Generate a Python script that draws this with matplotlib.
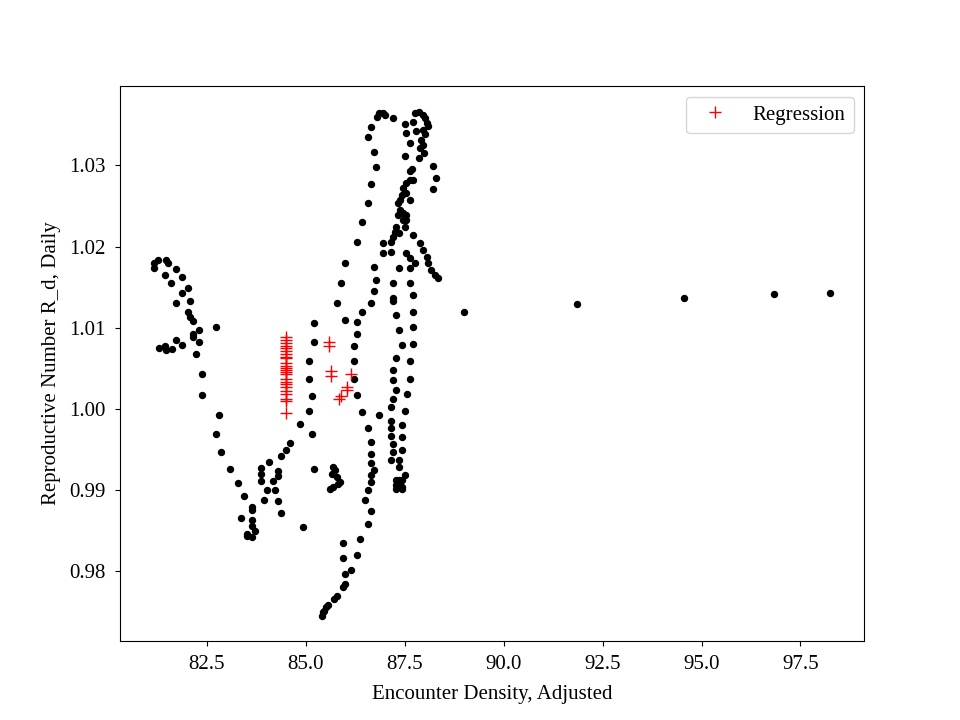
import matplotlib
matplotlib.use("Agg")
import matplotlib.pyplot as plt

plt.rcParams['font.family'] = ['Liberation Serif', 'DejaVu Serif']
plt.rcParams['font.size'] = 15

# Observed daily points (encounter density, reproductive number)
density = [
    81.17, 81.26, 81.16, 81.46, 81.53, 81.73, 81.45, 81.88, 81.60, 82.03,
    81.88, 81.73, 82.08, 82.02, 82.07, 82.15, 82.73, 82.31, 82.15, 82.15,
    82.31, 81.73, 81.88, 81.30, 81.45, 81.46, 81.61, 82.23, 82.38, 82.38,
    82.80, 82.73, 82.86, 83.09, 83.29, 83.44, 83.37, 83.64, 83.64, 83.64,
    83.64, 83.71, 83.51, 83.51, 83.64, 83.87, 83.87, 83.87, 84.07, 83.95,
    84.02, 84.16, 84.22, 84.31, 84.31, 84.31, 84.38, 84.38, 84.50, 84.59,
    84.86, 84.92, 85.08, 85.16, 85.21, 85.16, 85.08, 85.08, 85.21, 85.21,
    85.79, 86.64, 87.20, 87.71, 86.42, 87.28, 85.99, 86.30, 87.36, 87.71,
    86.30, 87.43, 87.71, 86.22, 87.28, 87.63, 86.22, 87.20, 86.22, 87.20,
    87.63, 87.28, 86.30, 87.56, 87.20, 87.15, 86.42, 87.51, 86.85, 87.15,
    86.57, 87.15, 87.43, 87.15, 87.43, 86.65, 87.20, 87.43, 86.65, 87.20,
    87.15, 87.36, 86.65, 86.72, 87.36, 87.51, 86.65, 86.65, 87.27, 87.35,
    87.43, 87.27, 87.37, 87.43, 87.28, 87.42, 85.69, 85.73, 85.65, 85.78,
    85.86, 85.82, 85.69, 85.62, 86.57, 86.50, 86.65, 86.57, 86.37, 85.94,
    86.30, 85.94, 86.14, 86.00, 85.99, 85.94, 85.79, 85.71, 85.57, 85.52,
    85.44, 85.42, 85.46, 86.85, 86.94, 86.80, 86.99, 87.20, 86.66, 86.57,
    86.72, 86.78, 86.66, 86.58, 86.42, 86.30, 85.99, 85.89, 87.75, 87.86,
    87.95, 88.01, 88.07, 88.09, 87.96, 88.01, 87.92, 87.96, 87.88, 87.98,
    87.86, 87.50, 87.71, 87.54, 87.78, 87.63, 87.50, 88.21, 88.30, 88.21,
    87.68, 87.63, 87.63, 87.71, 87.54, 87.46, 87.54, 87.42, 87.37, 87.33,
    87.63, 87.37, 87.46, 87.54, 87.33, 87.46, 87.54, 87.50, 87.29, 87.25,
    87.20, 87.16, 87.36, 87.71, 87.88, 87.96, 88.05, 88.09, 88.17, 88.26,
    88.34, 87.54, 87.63, 87.75, 87.64, 87.36, 87.16, 86.95, 86.95, 87.20,
    87.63, 87.71, 87.20, 86.72, 86.78, 86.72,
    89.00, 91.85, 94.55, 96.83, 98.25,
]
rate = [
    1.01800, 1.01834, 1.01732, 1.01834, 1.01794, 1.01720, 1.01649, 1.01621, 1.01547, 1.01485,
    1.01423, 1.01300, 1.01325, 1.01196, 1.01135, 1.01078, 1.01004, 1.00979, 1.00918, 1.00888,
    1.00831, 1.00847, 1.00782, 1.00757, 1.00773, 1.00724, 1.00733, 1.00683, 1.00437, 1.00178,
    0.99931, 0.99697, 0.99475, 0.99265, 0.99092, 0.98927, 0.98660, 0.98791, 0.98759, 0.98636,
    0.98553, 0.98491, 0.98463, 0.98430, 0.98421, 0.99272, 0.99203, 0.99108, 0.99351, 0.98874,
    0.98997, 0.99108, 0.99006, 0.99235, 0.99178, 0.98870, 0.98722, 0.99425, 0.99499, 0.99586,
    0.99820, 0.98549, 0.99980, 0.99697, 0.99265, 1.00165, 1.00375, 1.00585, 1.00819, 1.01053,
    1.01300, 1.01308, 1.01328, 1.01196, 1.01189, 1.01156, 1.01090, 1.01066, 1.00967, 1.01004,
    1.00921, 1.00794, 1.00798, 1.00770, 1.00634, 1.00588, 1.00585, 1.00486, 1.00375, 1.00363,
    1.00375, 1.00239, 1.00178, 1.00181, 1.00128, 1.00030, 0.99968, 0.99980, 0.99931, 0.99852,
    0.99771, 0.99762, 0.99808, 0.99663, 0.99651, 0.99598, 0.99573, 0.99499, 0.99450, 0.99470,
    0.99376, 0.99376, 0.99339, 0.99252, 0.99285, 0.99191, 0.99182, 0.99100, 0.99120, 0.99120,
    0.99120, 0.99059, 0.99059, 0.99038, 0.99010, 0.99018, 0.99285, 0.99244, 0.99203, 0.99161,
    0.99100, 0.99080, 0.99038, 0.99010, 0.99006, 0.98882, 0.98747, 0.98586, 0.98401, 0.98352,
    0.98204, 0.98167, 0.98019, 0.97970, 0.97846, 0.97804, 0.97702, 0.97661, 0.97591, 0.97558,
    0.97496, 0.97455, 0.97517, 1.03644, 1.03651, 1.03602, 1.03623, 1.03582, 1.03471, 1.03348,
    1.03170, 1.02978, 1.02768, 1.02534, 1.02303, 1.02053, 1.01794, 1.01547, 1.03651, 1.03663,
    1.03623, 1.03582, 1.03528, 1.03487, 1.03438, 1.03385, 1.03314, 1.03253, 1.03212, 1.03158,
    1.03089, 1.03512, 1.03540, 1.03397, 1.03429, 1.03281, 1.03117, 1.02994, 1.02842, 1.02706,
    1.02953, 1.02936, 1.02821, 1.02821, 1.02780, 1.02719, 1.02657, 1.02636, 1.02574, 1.02534,
    1.02574, 1.02451, 1.02410, 1.02389, 1.02389, 1.02328, 1.02328, 1.02245, 1.02245, 1.02183,
    1.02122, 1.02060, 1.02164, 1.02143, 1.02048, 1.01958, 1.01875, 1.01794, 1.01711, 1.01649,
    1.01608, 1.01917, 1.01855, 1.01794, 1.01732, 1.01732, 1.01937, 1.02040, 1.01917, 1.01547,
    1.01554, 1.01403, 1.01362, 1.01744, 1.01587, 1.01452,
    1.01190, 1.01288, 1.01362, 1.01411, 1.01427,
]

# Regression points
reg_density = [84.49] * 24 + [85.58, 85.58, 85.63, 85.63, 86.13, 86.03, 86.04, 85.88, 85.84]
reg_rate = [
    1.00881, 1.00847, 1.00814, 1.00777, 1.00745, 1.00712, 1.00683, 1.00641, 1.00622, 1.00564,
    1.00533, 1.00502, 1.00477, 1.00453, 1.00428, 1.00366, 1.00333, 1.00305, 1.00271, 1.00218,
    1.00181, 1.00128, 1.00099, 0.99956,
    1.00826, 1.00773, 1.00469, 1.00407, 1.00437, 1.00271, 1.00231, 1.00157, 1.00123,
]

fig, ax = plt.subplots(figsize=(9.6, 7.2), dpi=100)
ax.plot(density, rate, 'o', color='black', markersize=4.3, linestyle='none')
ax.plot(reg_density, reg_rate, '+', color='red', markersize=8.5, linestyle='none',
        label='Regression')
ax.tick_params(axis='both', pad=7)
ax.set_xlabel('Encounter Density, Adjusted', labelpad=7.5)
ax.set_ylabel('Reproductive Number R_d, Daily', labelpad=5.5)
ax.legend(loc='upper right')
fig.savefig('out.png', dpi=100)
